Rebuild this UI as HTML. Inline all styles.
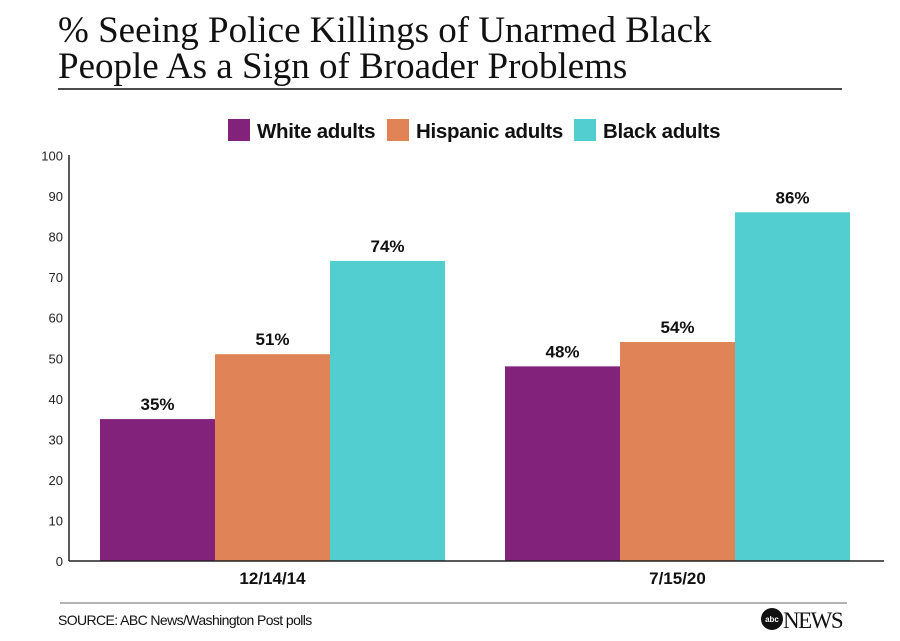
<!DOCTYPE html>
<html><head><meta charset="utf-8"><style>
body{margin:0;background:#fff;width:900px;height:636px;overflow:hidden;font-family:"Liberation Sans",sans-serif}
</style></head><body>
<svg width="900" height="636" xmlns="http://www.w3.org/2000/svg" id="chart">
<text x="58" y="42" font-family="Liberation Serif" font-size="37" fill="#111">% Seeing Police Killings of Unarmed Black</text>
<text x="58" y="78" font-family="Liberation Serif" font-size="37" fill="#111">People As a Sign of Broader Problems</text>
<line x1="58" y1="89" x2="842" y2="89" stroke="#111" stroke-width="1.5"/>
<g id="legend"></g>
<g id="grid"></g>
<g id="bars"></g>
<line x1="69" y1="155" x2="69" y2="561" stroke="#222" stroke-width="1.5"/>
<line x1="69" y1="561" x2="884" y2="561" stroke="#222" stroke-width="1.5"/>
<line x1="60" y1="603" x2="847" y2="603" stroke="#999" stroke-width="1.5"/>
<text x="58" y="625" font-size="14" letter-spacing="-0.6" fill="#111">SOURCE: ABC News/Washington Post polls</text>
<g>
<circle cx="772" cy="619" r="11" fill="#111"/>
<text x="772" y="622" font-size="8" font-weight="bold" fill="#fff" text-anchor="middle">abc</text>
<text x="783" y="628" font-family="Liberation Serif" font-size="23" fill="#111" letter-spacing="-1.5">NEWS</text>
</g>
</svg>
<script>
const categories=["12/14/14","7/15/20"];
const seriesNames=["White adults","Hispanic adults","Black adults"];
const whiteVals=[35,48];
const hispanicVals=[51,54];
const blackVals=[74,86];
const yTicks=[0,10,20,30,40,50,60,70,80,90,100];
const colors=["#83227a","#e08457","#52cdd0"];
const NS="http://www.w3.org/2000/svg";
const y0=561,pxPer=4.055;
function yScale(v){return y0-v*pxPer;}
const groupStart=[100,505],barW=115;
function xScale(gi,si){return groupStart[gi]+si*barW;}
function mk(tag,attrs,parent){const e=document.createElementNS(NS,tag);for(const k in attrs)e.setAttribute(k,attrs[k]);parent.appendChild(e);return e;}
const grid=document.getElementById('grid');
yTicks.forEach(t=>{const tx=mk('text',{x:63,y:yScale(t)+5,'font-size':13,'text-anchor':'end',fill:'#222'},grid);


tx.textContent=t;});
const bars=document.getElementById('bars');
const series=[whiteVals,hispanicVals,blackVals];
categories.forEach((c,gi)=>{
 series.forEach((vals,si)=>{
  const v=vals[gi];
  const r=mk('rect',{x:xScale(gi,si),y:yScale(v),width:barW,height:v*pxPer,fill:colors[si]},bars);
  
  
  const l=mk('text',{x:xScale(gi,si)+barW/2,y:yScale(v)-9,'font-size':17,'font-weight':'bold','text-anchor':'middle',fill:'#111'},bars);
  
  
  l.textContent=v+'%';
 });
 const cl=mk('text',{x:xScale(gi,1)+barW/2,y:584,'font-size':17,'font-weight':'bold','text-anchor':'middle',fill:'#111'},bars);
 
 
 cl.textContent=c;
});
const leg=document.getElementById('legend');
const legX=[228,387,574];
seriesNames.forEach((n,i)=>{
 const sw=mk('rect',{x:legX[i],y:119,width:22,height:22,fill:colors[i]},leg);
 
 
 const t=mk('text',{x:legX[i]+29,y:138,'font-size':20.5,'font-weight':'bold','letter-spacing':'-0.3',fill:'#111'},leg);
 
 
 t.textContent=n;
});
</script>
</body></html>
